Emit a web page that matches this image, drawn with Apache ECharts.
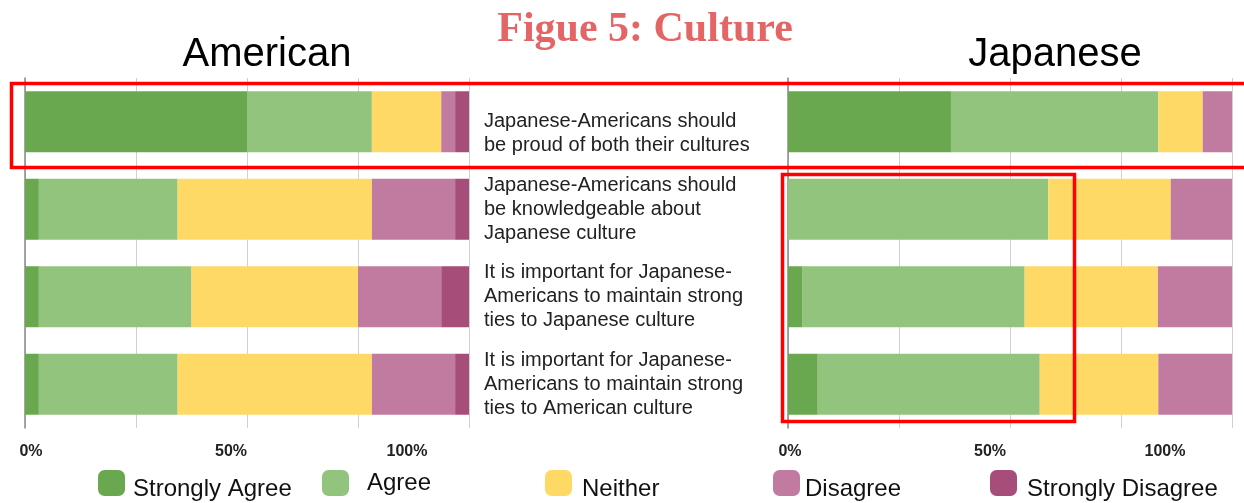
<!DOCTYPE html>
<html>
<head>
<meta charset="utf-8">
<title>Figue 5: Culture</title>
<script src="https://cdn.jsdelivr.net/npm/echarts@6/dist/echarts.min.js"></script>
<style>
  html, body { margin: 0; padding: 0; background: #fff; }
  #chart { width: 1244px; height: 503px; }
</style>
</head>
<body>
<div id="chart"></div>
<script>
// Survey statements (shared by both panels)
const categories = [
  'Japanese-Americans should\nbe proud of both their cultures',
  'Japanese-Americans should\nbe knowledgeable about\nJapanese culture',
  'It is important for Japanese-\nAmericans to maintain strong\nties to Japanese culture',
  'It is important for Japanese-\nAmericans to maintain strong\nties to American culture'
];

const responseNames = ['Strongly Agree', 'Agree', 'Neither', 'Disagree', 'Strongly Disagree'];
const responseColors = ['#6aa84f', '#93c47d', '#ffd966', '#c27ba0', '#a64d79'];

// American respondents (% of responses)
const americanStronglyAgree    = [50.0, 3.125, 3.125, 3.125];
const americanAgree            = [28.125, 31.25, 34.375, 31.25];
const americanNeither          = [15.625, 43.75, 37.5, 43.75];
const americanDisagree         = [3.125, 18.75, 18.75, 18.75];
const americanStronglyDisagree = [3.125, 3.125, 6.25, 3.125];

// Japanese respondents (% of responses)
const japaneseStronglyAgree = [36.7, 0, 3.3, 6.7];
const japaneseAgree         = [46.7, 58.6, 50.0, 50.0];
const japaneseNeither       = [10.0, 27.6, 30.0, 26.7];
const japaneseDisagree      = [6.6, 13.8, 16.7, 16.6];

// Percent labels under each panel
const tickLabels = ['0%', '50%', '100%'];
const americanTickX = [31, 231, 407];
const japaneseTickX = [790, 990, 1165];

const americanSets = [americanStronglyAgree, americanAgree, americanNeither, americanDisagree, americanStronglyDisagree];
const japaneseSets = [japaneseStronglyAgree, japaneseAgree, japaneseNeither, japaneseDisagree];

const chart = echarts.init(document.getElementById('chart'), null, { renderer: 'canvas' });

const gridTop = 78, gridBottom = 75;
const labelFont = '"Liberation Sans", Arial, sans-serif';

function valueAxis(gridIndex) {
  return {
    type: 'value', gridIndex, min: 0, max: 100, interval: 25,
    axisLabel: { show: false }, axisTick: { show: false }, axisLine: { show: false },
    splitLine: { lineStyle: { color: '#d0d0d0', width: 1 } }
  };
}

const series = [];
americanSets.forEach((vals, i) => {
  series.push({
    name: responseNames[i], type: 'bar', stack: 'american',
    xAxisIndex: 0, yAxisIndex: 0, barWidth: 61,
    itemStyle: { color: responseColors[i] }, data: vals
  });
});
japaneseSets.forEach((vals, i) => {
  series.push({
    name: responseNames[i], type: 'bar', stack: 'japanese',
    xAxisIndex: 1, yAxisIndex: 1, barWidth: 61,
    itemStyle: { color: responseColors[i] }, data: vals
  });
});

// One legend block per response, spaced across the bottom
const legendLeft = [98, 322, 545, 773, 990];
const legendTextPad = [[12, 0, 0, 3], [0, 0, 0, 13], [12, 0, 0, 5], [12, 0, 0, 0], [12, 0, 0, 5]];
const legends = responseNames.map((name, i) => ({
  data: [name], left: legendLeft[i], top: 470, padding: 0,
  icon: 'roundRect', itemWidth: 27, itemHeight: 26, selectedMode: false,
  formatter: '{t|{name}}',
  textStyle: {
    fontFamily: labelFont, fontSize: 24, color: '#111',
    rich: { t: { fontFamily: labelFont, fontSize: 24, color: '#111', padding: legendTextPad[i] } }
  }
}));

const tickGraphics = [];
americanTickX.concat(japaneseTickX).forEach((x, i) => {
  tickGraphics.push({
    type: 'text', x, y: 452,
    style: {
      text: tickLabels[i % 3], fill: '#222',
      font: 'bold 16px "Liberation Sans", Arial, sans-serif',
      textAlign: 'center', textVerticalAlign: 'middle'
    }
  });
});

const option = {
  animation: false,
  backgroundColor: '#fff',
  title: [
    { text: 'Figue 5: Culture', left: 640, top: 4, textAlign: 'center',
      textStyle: { fontFamily: '"Liberation Serif", "DejaVu Serif", serif', fontWeight: 'bold', fontSize: 42, color: '#e46565' } },
    { text: 'American', left: 262, top: 30, textAlign: 'center',
      textStyle: { fontFamily: labelFont, fontWeight: 'normal', fontSize: 40, color: '#000' } },
    { text: 'Japanese', left: 1050, top: 30, textAlign: 'center',
      textStyle: { fontFamily: labelFont, fontWeight: 'normal', fontSize: 40, color: '#000' } }
  ],
  legend: legends,
  grid: [
    { left: 25, right: 775, top: gridTop, bottom: gridBottom },
    { left: 788, right: 12, top: gridTop, bottom: gridBottom }
  ],
  xAxis: [valueAxis(0), valueAxis(1)],
  yAxis: [
    { type: 'category', gridIndex: 0, inverse: true, data: categories,
      axisTick: { show: false }, axisLabel: { show: false },
      axisLine: { show: true, lineStyle: { color: '#8a8a8a', width: 1.5 } } },
    { type: 'category', gridIndex: 1, inverse: true, data: categories,
      axisTick: { show: false },
      axisLine: { show: true, lineStyle: { color: '#8a8a8a', width: 1.5 } },
      axisLabel: {
        margin: 304, align: 'left', fontSize: 20, lineHeight: 24, color: '#222', fontFamily: labelFont,
        // the two-line statement sits a little lower in its row
        formatter: (value, index) => (index === 0 ? '\n' + value : value)
      } }
  ],
  series,
  graphic: tickGraphics.concat([
    { type: 'rect', shape: { x: 11.5, y: 83.5, width: 1250, height: 84 },
      style: { fill: 'none', stroke: '#ff0000', lineWidth: 3.5 }, z: 100 },
    { type: 'rect', shape: { x: 782.5, y: 174.5, width: 292, height: 247 },
      style: { fill: 'none', stroke: '#ff0000', lineWidth: 3.5 }, z: 100 }
  ])
};

chart.setOption(option);
</script>
</body>
</html>
